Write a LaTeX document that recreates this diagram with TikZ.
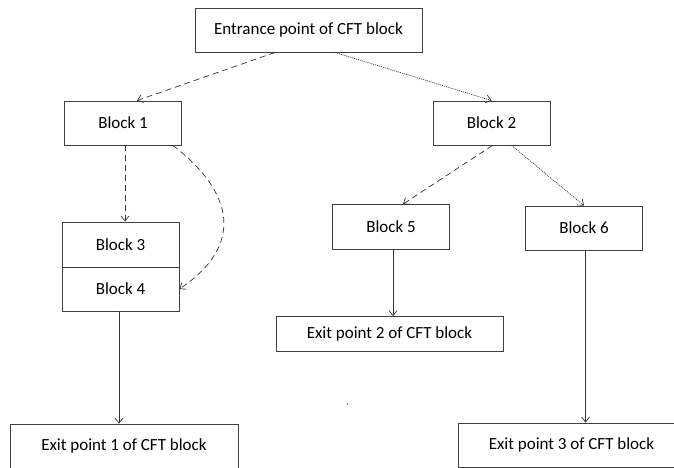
\documentclass[tikz,border=0pt]{standalone}
\usepackage{fontspec}
\setmainfont{Carlito}
\usetikzlibrary{arrows.meta}
\begin{document}
\begin{tikzpicture}[
        x=1pt, y=-1pt,
        every node/.style={font=\fontsize{17}{19}\selectfont},
        blk/.style={draw=black!75, line width=0.9pt, minimum width=117pt, minimum height=44pt, inner sep=0pt},
        ext/.style={blk, minimum width=227pt},
        arr/.style={draw=black!80, line width=0.7pt, -{Straight Barb[length=5pt, width=8pt]}},
        dsh/.style={arr, dash pattern=on 6pt off 4pt},
        dts/.style={arr, dash pattern=on 1pt off 1pt},
    ]
    \useasboundingbox (0,0) rectangle (674,467);
    \clip (0,0) rectangle (674,467);
    \node[ext] (e) at (308.5,30) {Entrance point of CFT block};
    \node[blk] (b1) at (123,123) {Block 1};
    \node[blk] (b2) at (491.5,123) {Block 2};
    \node[blk, minimum height=45pt] (b3) at (120.5,244.5) {Block 3};
    \node[blk] (b4) at (120.5,289) {Block 4};
    \node[blk, minimum height=45pt] (b5) at (391,227) {Block 5};
    \node[blk] (b6) at (584,228) {Block 6};
    \node[ext, minimum height=35pt] (x2) at (389.5,334) {Exit point 2 of CFT block};
    \node[ext, minimum width=228pt] (x1) at (124,446) {Exit point 1 of CFT block};
    \node[ext] (x3) at (571.5,445) {Exit point 3 of CFT block};
    \draw[dsh] ([xshift=-33.5pt]e.south) -- ([xshift=14pt]b1.north);
    \draw[dts] ([xshift=26.5pt]e.south) -- (b2.north);
    \draw[dsh] ([xshift=2pt]b1.south) -- ([xshift=2pt]b1.south |- b3.north);
    \draw[dsh] ([xshift=-9pt]b1.south east) .. controls (225,185) and (252,240) .. (b4.east);
    \draw[dsh] ([xshift=1pt]b2.south) -- ([xshift=12pt]b5.north);
    \draw[dts] ([xshift=20pt]b2.south) -- (b6.north);
    \draw[arr] ([xshift=2pt]b5.south) -- ([xshift=2pt]b5.south |- x2.north);
    \draw[arr] ([xshift=-1.5pt]b4.south) -- ([xshift=-1.5pt]b4.south |- x1.north);
    \draw[arr] ([xshift=1.5pt]b6.south) -- ([xshift=1.5pt]b6.south |- x3.north);
    \fill[black!60] (347.5,404) circle (0.8pt);
\end{tikzpicture}
\end{document}
